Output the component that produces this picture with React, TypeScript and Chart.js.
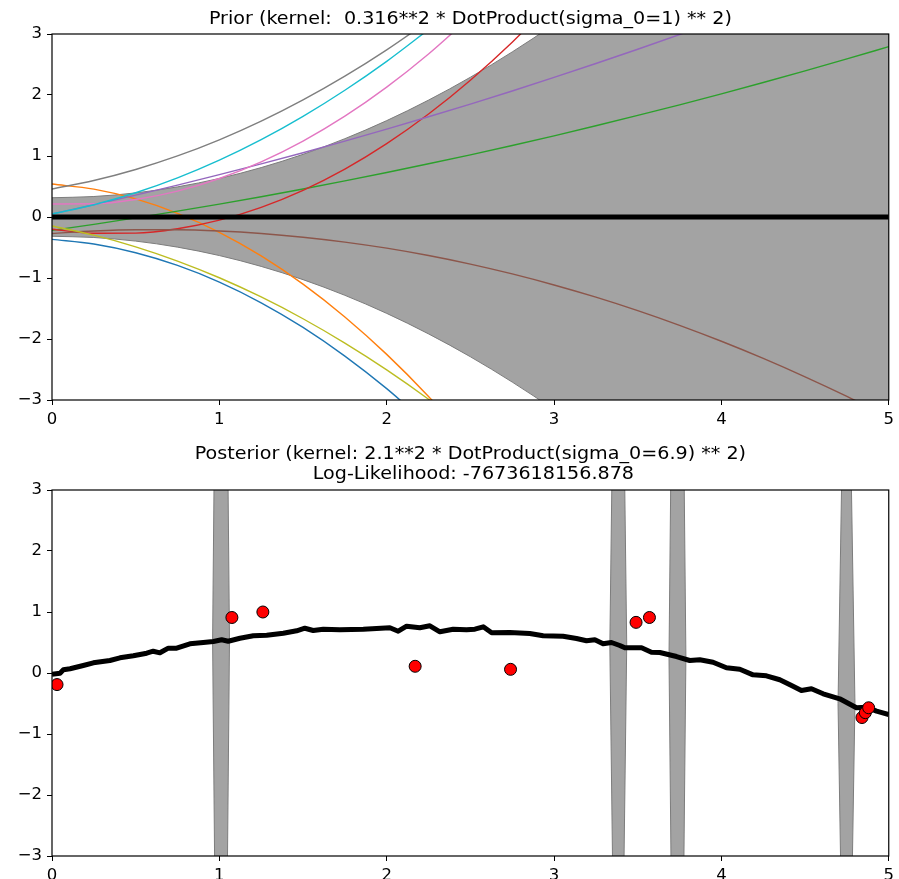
import React, { useEffect, useRef } from 'react';
import { Chart, registerables } from 'chart.js';

Chart.register(...registerables);

// ---------- Prior panel data ----------
const xGrid = [0, 0.25, 0.5, 0.75, 1, 1.25, 1.5, 1.75, 2, 2.25, 2.5, 2.75, 3, 3.25, 3.5, 3.75, 4, 4.25, 4.5, 4.75, 5];
const priorMeanX = [0, 5];
const priorMeanY = [0, 0];
const priorStd = [0.316, 0.336, 0.395, 0.494, 0.632, 0.81, 1.027, 1.284, 1.58, 1.916, 2.291, 2.706, 3.16, 3.654, 4.187, 4.76, 5.37, 6.02, 6.72, 7.45, 8.22];

const sampleBlue = [-0.366, -0.443, -0.586, -0.794, -1.067, -1.406, -1.81, -2.28, -2.814, -3.414];
const sampleOrange = [0.54, 0.456, 0.296, 0.06, -0.251, -0.638, -1.1, -1.638, -2.252, -2.941, -3.706];
const sampleGreen = [-0.22, -0.12, -0.015, 0.096, 0.212, 0.333, 0.46, 0.592, 0.729, 0.872, 1.019, 1.173, 1.331, 1.495, 1.665, 1.839, 2.019, 2.205, 2.395, 2.591, 2.793];
const sampleRed = [-0.2, -0.266, -0.264, -0.192, -0.051, 0.159, 0.438, 0.785, 1.202, 1.688, 2.243, 2.866, 3.559];
const samplePurple = [0.05, 0.201, 0.359, 0.523, 0.694, 0.871, 1.054, 1.244, 1.44, 1.643, 1.851, 2.066, 2.288, 2.516, 2.75, 2.991, 3.238];
const sampleBrown = [-0.27, -0.23, -0.21, -0.21, -0.23, -0.27, -0.331, -0.411, -0.511, -0.632, -0.772, -0.933, -1.114, -1.314, -1.535, -1.776, -2.037, -2.318, -2.62, -2.941, -3.282];
const samplePink = [0.213, 0.216, 0.287, 0.425, 0.631, 0.904, 1.245, 1.653, 2.129, 2.672, 3.283];
const sampleGray = [0.46, 0.598, 0.779, 1.001, 1.265, 1.571, 1.919, 2.308, 2.74, 3.213];
const sampleOlive = [-0.148, -0.298, -0.489, -0.722, -0.996, -1.311, -1.668, -2.067, -2.506, -2.987, -3.509];
const sampleCyan = [0.05, 0.201, 0.398, 0.642, 0.932, 1.268, 1.65, 2.078, 2.552, 3.073];

const sampleSeries = [sampleBlue, sampleOrange, sampleGreen, sampleRed, samplePurple, sampleBrown, samplePink, sampleGray, sampleOlive, sampleCyan];
const sampleColors = ['#1f77b4', '#ff7f0e', '#2ca02c', '#d62728', '#9467bd', '#8c564b', '#e377c2', '#7f7f7f', '#bcbd22', '#17becf'];

// ---------- Posterior panel data ----------
const postMeanX = [0, 0.048, 0.068, 0.108, 0.187, 0.247, 0.346, 0.406, 0.486, 0.566, 0.605, 0.645, 0.695, 0.745, 0.824, 0.904, 0.964, 1.014, 1.053, 1.123, 1.203, 1.283, 1.382, 1.462, 1.511, 1.561, 1.621, 1.72, 1.86, 2.019, 2.069, 2.119, 2.198, 2.258, 2.318, 2.397, 2.477, 2.527, 2.577, 2.627, 2.736, 2.855, 2.935, 3.054, 3.134, 3.194, 3.244, 3.293, 3.343, 3.393, 3.423, 3.523, 3.582, 3.632, 3.732, 3.811, 3.871, 3.95, 4.03, 4.11, 4.189, 4.269, 4.349, 4.419, 4.478, 4.538, 4.608, 4.707, 4.807, 4.867, 4.927, 5];
const postMeanY = [-0.02, -0.003, 0.052, 0.069, 0.123, 0.167, 0.205, 0.249, 0.282, 0.325, 0.357, 0.331, 0.407, 0.407, 0.479, 0.5, 0.516, 0.544, 0.521, 0.57, 0.61, 0.62, 0.652, 0.692, 0.734, 0.697, 0.718, 0.708, 0.718, 0.741, 0.685, 0.767, 0.741, 0.774, 0.675, 0.718, 0.708, 0.718, 0.757, 0.659, 0.664, 0.648, 0.61, 0.603, 0.566, 0.528, 0.544, 0.479, 0.5, 0.451, 0.413, 0.413, 0.341, 0.336, 0.27, 0.205, 0.216, 0.177, 0.085, 0.062, -0.03, -0.046, -0.111, -0.205, -0.287, -0.259, -0.341, -0.423, -0.57, -0.561, -0.626, -0.68];

const spikeLeft = [0.9596, 3.3333, 3.6869, 4.697];
const spikeCenter = [1.0101, 3.3838, 3.7374, 4.7475];
const spikeRight = [1.0606, 3.4343, 3.7879, 4.798];
const spikeMean = [0.53, 0.46, 0.26, -0.5];
const spikeStd = [15, 11, 14, 8.5];

const trainX = [0.03, 1.075, 1.26, 2.17, 2.74, 3.49, 3.57, 4.84, 4.86, 4.88];
const trainY = [-0.19, 0.91, 1.0, 0.11, 0.06, 0.83, 0.91, -0.73, -0.65, -0.57];

const priorTitle = ['Prior (kernel:  0.316**2 * DotProduct(sigma_0=1) ** 2)'];
const posteriorTitle = ['Posterior (kernel: 2.1**2 * DotProduct(sigma_0=6.9) ** 2)', ' Log-Likelihood: -7673618156.878'];

// ---------- styling ----------
const FONT = "'DejaVu Sans', 'Liberation Sans', sans-serif";
const BAND = '#a3a3a3';
const BAND_EDGE = '#7d7d7d';

const fmt = (v: any) => {
  const n = Number(v);
  return n < 0 ? '\u2212' + Math.abs(n) : String(n);
};

const framePlugin = {
  id: 'frame',
  afterDatasetsDraw(chart: any) {
    const { ctx, chartArea: a } = chart;
    ctx.save();
    ctx.strokeStyle = '#000';
    ctx.lineWidth = 1.2;
    ctx.strokeRect(a.left, a.top, a.right - a.left, a.bottom - a.top);
    ctx.restore();
  },
};

function titlePlugin(lines: string[], baselines: number[]) {
  return {
    id: 'mplTitle',
    afterDraw(chart: any) {
      const { ctx, chartArea: a } = chart;
      const cx = (a.left + a.right) / 2;
      ctx.save();
      ctx.font = `17.4px ${FONT}`;
      ctx.fillStyle = '#000';
      ctx.textAlign = 'center';
      ctx.textBaseline = 'alphabetic';
      lines.forEach((t, i) => {
        ctx.save();
        ctx.translate(cx, baselines[i]);
        ctx.scale(1.1, 1);
        ctx.fillText(t, 0, 0);
        ctx.restore();
      });
      ctx.restore();
    },
  };
}

function makeScales(xHeight: number) {
  const tickFont = { family: FONT, size: 16.5 };
  const grid = { display: true, drawOnChartArea: false, drawTicks: true, tickLength: 5, color: '#000', lineWidth: 1 };
  return {
    x: {
      type: 'linear',
      min: 0,
      max: 5,
      ticks: { stepSize: 1, font: tickFont, color: '#000', padding: 5, maxRotation: 0, callback: fmt },
      grid,
      border: { display: false },
      afterFit: (s: any) => { s.height = xHeight; },
    },
    y: {
      type: 'linear',
      min: -3,
      max: 3,
      ticks: { stepSize: 1, font: tickFont, color: '#000', padding: 5, callback: fmt },
      grid,
      border: { display: false },
      afterFit: (s: any) => { s.width = 52; },
    },
  };
}

function line(xs: number[], ys: number[], color: string, width: number, order: number, extra: any = {}) {
  return {
    data: ys.map((y, i) => ({ x: xs[i], y })),
    showLine: true,
    borderColor: color,
    backgroundColor: color,
    borderWidth: width,
    pointRadius: 0,
    pointHoverRadius: 0,
    fill: false,
    tension: 0,
    borderJoinStyle: 'round',
    borderCapStyle: 'butt',
    order,
    clip: 0,
    ...extra,
  };
}

function makeOptions(topPad: number, xHeight: number) {
  return {
    responsive: false,
    animation: false,
    events: [],
    layout: { padding: { left: 0, right: 10, top: topPad, bottom: 0 } },
    plugins: {
      legend: { display: false },
      tooltip: { enabled: false },
      title: { display: false },
    },
    scales: makeScales(xHeight),
  };
}

const smooth = { cubicInterpolationMode: 'monotone' };

function priorConfig(): any {
  const datasets: any[] = [];
  datasets.push(line(priorMeanX, priorMeanY, '#000', 5, 0));
  sampleSeries.forEach((ys, k) => {
    datasets.push(line(xGrid.slice(0, ys.length), ys, sampleColors[k], 1.4, 20 - k, smooth));
  });
  datasets.push(line(xGrid, priorStd, BAND_EDGE, 1, 31, { ...smooth, fill: '+1', backgroundColor: BAND }));
  datasets.push(line(xGrid, priorStd.map((v) => -v), BAND_EDGE, 1, 30, smooth));
  return {
    type: 'line',
    data: { datasets },
    options: makeOptions(34, 30),
    plugins: [framePlugin, titlePlugin(priorTitle, [24])],
  };
}

function posteriorConfig(): any {
  const datasets: any[] = [];
  datasets.push({
    data: trainX.map((x, i) => ({ x, y: trainY[i] })),
    showLine: false,
    pointRadius: 6,
    pointHoverRadius: 6,
    pointBackgroundColor: '#ff0000',
    pointBorderColor: '#000',
    pointBorderWidth: 1,
    order: 0,
    clip: 0,
  });
  datasets.push(line(postMeanX, postMeanY, '#000', 5, 1));
  spikeCenter.forEach((c, i) => {
    const xs = [spikeLeft[i], c, spikeRight[i]];
    const m = spikeMean[i];
    const s = spikeStd[i];
    datasets.push(line(xs, [m, m + s, m], BAND_EDGE, 1, 11, { fill: '+1', backgroundColor: BAND }));
    datasets.push(line(xs, [m, m - s, m], BAND_EDGE, 1, 10));
  });
  return {
    type: 'line',
    data: { datasets },
    options: makeOptions(60, 23),
    plugins: [framePlugin, titlePlugin(posteriorTitle, [28.5, 48.5])],
  };
}

function Panel({ top, height, config }: { top: number; height: number; config: () => any }) {
  const ref = useRef<HTMLCanvasElement | null>(null);
  useEffect(() => {
    if (!ref.current) return;
    const chart = new Chart(ref.current, config());
    return () => chart.destroy();
  }, []);
  return (
    <canvas
      ref={ref}
      width={899}
      height={height}
      style={{ position: 'absolute', left: 0, top, width: 899, height }}
    />
  );
}

export default function App() {
  return (
    <div style={{ position: 'absolute', left: 0, top: 0, width: 899, height: 879, background: '#fff' }}>
      <Panel top={0} height={430} config={priorConfig} />
      <Panel top={430} height={449} config={posteriorConfig} />
    </div>
  );
}
